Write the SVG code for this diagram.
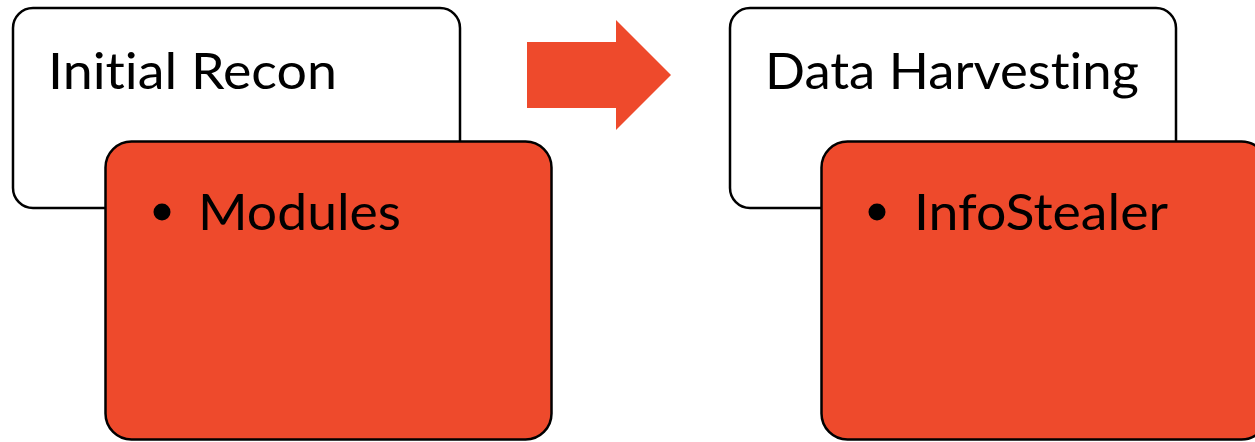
<svg xmlns="http://www.w3.org/2000/svg" width="1255" height="442" viewBox="0 0 1255 442">
  <style>
    .head { fill: #ffffff; stroke: #000000; stroke-width: 2.5; }
    .body { fill: #EE4A2C; stroke: #000000; stroke-width: 2.5; }
    .t { font-family: "Lato", "Liberation Sans", sans-serif; font-size: 50px; fill: #000000; font-variant-ligatures: none; font-feature-settings: "liga" 0, "clig" 0, "dlig" 0; }
    .bullet { fill: #000000; }
    .arrow { fill: #EE4A2C; }
  </style>
  <rect width="1255" height="442" fill="#ffffff"/>
  <g id="node-initial-recon">
    <rect class="head" x="13" y="8" width="447" height="200" rx="20" ry="20"/>
    <text class="t" x="48" y="89" textLength="289" lengthAdjust="spacingAndGlyphs">Initial Recon</text>
  </g>
  <g id="node-modules">
    <rect class="body" x="105.5" y="141.5" width="446" height="298" rx="26" ry="26"/>
    <circle class="bullet" cx="162" cy="212" r="8.5"/>
    <text class="t" x="198" y="230" textLength="203" lengthAdjust="spacingAndGlyphs">Modules</text>
  </g>
  <g id="connectors">
    <polygon class="arrow" points="527,42 616,42 616,20 671,75 616,130 616,108 527,108"/>
  </g>
  <g id="node-data-harvesting">
    <rect class="head" x="730" y="8" width="446" height="200" rx="20" ry="20"/>
    <text class="t" x="765" y="89" textLength="374" lengthAdjust="spacingAndGlyphs">Data Harvesting</text>
  </g>
  <g id="node-infostealer">
    <rect class="body" x="821.5" y="141.5" width="446" height="298" rx="26" ry="26"/>
    <circle class="bullet" cx="877" cy="212" r="8.5"/>
    <text class="t" x="914" y="230" textLength="254" lengthAdjust="spacingAndGlyphs">InfoStealer</text>
  </g>
</svg>
